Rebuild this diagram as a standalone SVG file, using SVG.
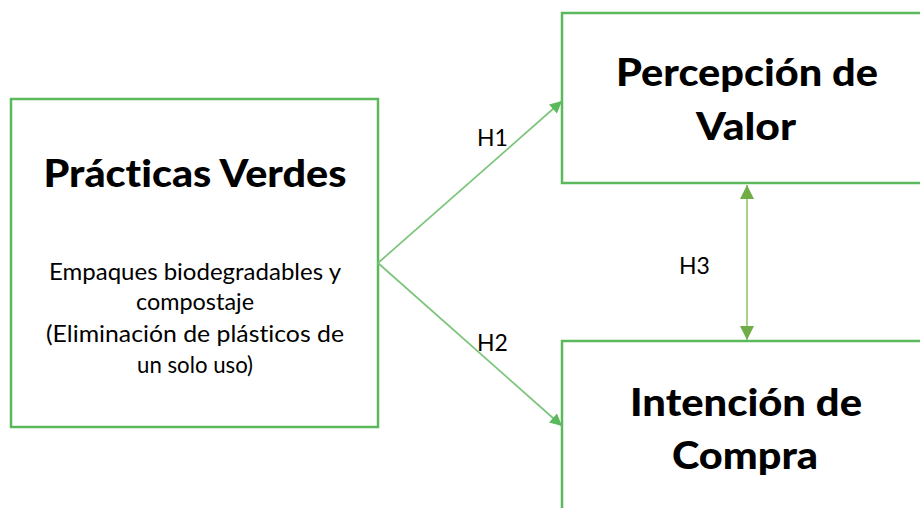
<svg xmlns="http://www.w3.org/2000/svg" width="920" height="508" viewBox="0 0 920 508">
<style>
text{font-variant-ligatures:none;font-feature-settings:"liga" 0}
.box{fill:#fff;stroke:#5cb85c;stroke-width:2.5}
.title{font-family:Lato,"Open Sans","Liberation Sans",sans-serif;font-weight:900;fill:#000;text-anchor:middle;font-size:38px}
.sub{font-family:Lato,"Open Sans","Liberation Sans",sans-serif;font-size:23px;fill:#000;text-anchor:middle}
.lbl{font-family:Lato,"Open Sans","Liberation Sans",sans-serif;font-size:23px;fill:#000}
.con{stroke:#7cc47c;stroke-width:1.7;fill:none}
.con3{stroke:#a9d18e;stroke-width:2;fill:none}
</style>
<defs>
<marker id="ah" viewBox="0 0 10 10" refX="10" refY="5" markerWidth="16" markerHeight="12" markerUnits="userSpaceOnUse" orient="auto">
<path d="M0,0 L10,5 L0,10 z" fill="#5cb85c"/>
</marker>
<marker id="ah3" viewBox="0 0 10 10" refX="10" refY="5" markerWidth="16" markerHeight="14" markerUnits="userSpaceOnUse" orient="auto-start-reverse">
<path d="M0,0 L10,5 L0,10 z" fill="#70ad47"/>
</marker>
</defs>
<g id="practicas-verdes">
<rect class="box" x="11" y="99" width="367" height="328"/>
<text class="title" x="195" y="187" textLength="303" lengthAdjust="spacingAndGlyphs">Prácticas Verdes</text>
<text class="sub" x="195" y="280" textLength="292" lengthAdjust="spacingAndGlyphs">Empaques biodegradables y</text>
<text class="sub" x="195" y="310" textLength="118" lengthAdjust="spacingAndGlyphs">compostaje</text>
<text class="sub" x="195" y="342" textLength="298" lengthAdjust="spacingAndGlyphs">(Eliminación de plásticos de</text>
<text class="sub" x="195" y="373" textLength="116" lengthAdjust="spacingAndGlyphs">un solo uso)</text>
</g>
<g id="percepcion-valor">
<rect class="box" x="562" y="13" width="370" height="170"/>
<text class="title" x="747" y="86" textLength="262" lengthAdjust="spacingAndGlyphs">Percepción de</text>
<text class="title" x="746" y="140" textLength="100" lengthAdjust="spacingAndGlyphs">Valor</text>
</g>
<g id="intencion-compra">
<rect class="box" x="562" y="341" width="370" height="180"/>
<text class="title" x="746" y="416" textLength="232" lengthAdjust="spacingAndGlyphs">Intención de</text>
<text class="title" x="745" y="469" textLength="146" lengthAdjust="spacingAndGlyphs">Compra</text>
</g>
<g id="connectors">
<line class="con" x1="378" y1="263" x2="562" y2="101" marker-end="url(#ah)"/>
<line class="con" x1="378" y1="263" x2="562" y2="426" marker-end="url(#ah)"/>
<line class="con3" x1="747" y1="185" x2="747" y2="340" marker-start="url(#ah3)" marker-end="url(#ah3)"/>
<text class="lbl" x="477" y="146">H1</text>
<text class="lbl" x="477" y="351">H2</text>
<text class="lbl" x="679" y="274">H3</text>
</g>
</svg>
